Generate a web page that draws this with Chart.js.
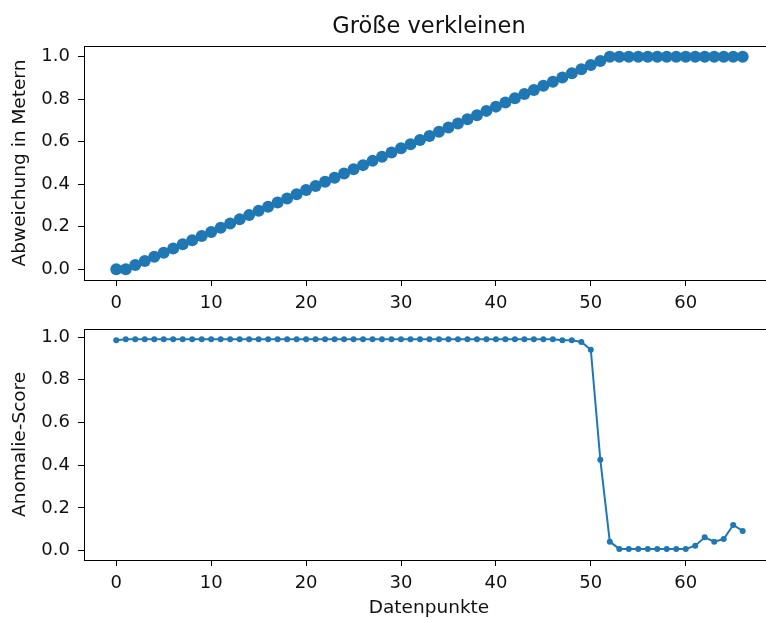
<!DOCTYPE html>
<html>
<head>
<meta charset="utf-8">
<script src="https://cdn.jsdelivr.net/npm/chart.js@4/dist/chart.umd.min.js"></script>
<style>
  html, body { margin: 0; padding: 0; background: #fff; overflow: hidden; width: 766px; height: 619px; }
  .wrap { position: absolute; left: 0; width: 790px; }
  #top { top: 0; height: 310px; }
  #bottom { top: 310px; height: 309px; }
</style>
</head>
<body>
<div class="wrap" id="top"><canvas id="deviationChart"></canvas></div>
<div class="wrap" id="bottom"><canvas id="scoreChart"></canvas></div>
<script>
// ── Data ────────────────────────────────────────────
const TITLE = 'Größe verkleinen';
const X_TICKS = [0, 10, 20, 30, 40, 50, 60];
const Y_TICKS = [0, 0.2, 0.4, 0.6, 0.8, 1.0];

// Abweichung in Metern (oben)
const deviation = [
  0, 0, 0.020, 0.039, 0.059, 0.078, 0.098, 0.118, 0.137, 0.157,
  0.176, 0.196, 0.216, 0.235, 0.255, 0.275, 0.294, 0.314, 0.333, 0.353,
  0.373, 0.392, 0.412, 0.431, 0.451, 0.471, 0.490, 0.510, 0.529, 0.549,
  0.569, 0.588, 0.608, 0.627, 0.647, 0.667, 0.686, 0.706, 0.725, 0.745,
  0.765, 0.784, 0.804, 0.824, 0.843, 0.863, 0.882, 0.902, 0.922, 0.941,
  0.961, 0.980, 1.0, 1.0, 1.0, 1.0, 1.0, 1.0, 1.0, 1.0,
  1.0, 1.0, 1.0, 1.0, 1.0, 1.0, 1.0
];

// Anomalie-Score (unten)
const anomalyScore = [
  0.985, 0.99, 0.99, 0.99, 0.99, 0.99, 0.99, 0.99, 0.99, 0.99,
  0.99, 0.99, 0.99, 0.99, 0.99, 0.99, 0.99, 0.99, 0.99, 0.99,
  0.99, 0.99, 0.99, 0.99, 0.99, 0.99, 0.99, 0.99, 0.99, 0.99,
  0.99, 0.99, 0.99, 0.99, 0.99, 0.99, 0.99, 0.99, 0.99, 0.99,
  0.99, 0.99, 0.99, 0.99, 0.99, 0.99, 0.99, 0.985, 0.985, 0.977,
  0.941, 0.426, 0.042, 0.008, 0.008, 0.008, 0.008, 0.008, 0.008, 0.008,
  0.008, 0.023, 0.062, 0.042, 0.054, 0.12, 0.092
];

// ── Style ───────────────────────────────────────────
const BLUE = '#1f77b4';
const FONT = 'DejaVu Sans';
const TEXT = '#111';
const TICK_SIZE = 18;
const LABEL_SIZE = 18.5;

// matplotlib-like box round the axes
const spines = {
  id: 'spines',
  afterDraw(chart) {
    const { ctx, chartArea: a } = chart;
    ctx.save();
    ctx.strokeStyle = '#000';
    ctx.lineWidth = 1;
    ctx.strokeRect(Math.round(a.left) + 0.5, Math.round(a.top) + 0.5,
      Math.round(a.right - a.left), Math.round(a.bottom - a.top));
    ctx.restore();
  },
};

// title centred over the axes, like matplotlib's ax.set_title
const axesTitle = {
  id: 'axesTitle',
  afterDraw(chart, args, opts) {
    if (!opts.text) return;
    const { ctx, chartArea: a } = chart;
    ctx.save();
    ctx.fillStyle = TEXT;
    ctx.font = `${opts.size}px "${FONT}"`;
    ctx.textAlign = 'center';
    ctx.textBaseline = 'alphabetic';
    ctx.fillText(opts.text, (a.left + a.right) / 2, opts.baseline);
    ctx.restore();
  },
};

function xScale(height, withTitle) {
  return {
    type: 'linear',
    min: -3.4,
    max: 69.3,
    afterBuildTicks: (s) => { s.ticks = X_TICKS.map((v) => ({ value: v })); },
    afterFit: (s) => { s.height = height; },
    grid: { drawOnChartArea: false, drawTicks: true, tickLength: 6, color: '#000' },
    border: { display: false },
    ticks: { color: TEXT, font: { family: FONT, size: TICK_SIZE }, padding: 7, maxRotation: 0 },
    title: {
      display: withTitle,
      text: 'Datenpunkte',
      color: TEXT,
      font: { family: FONT, size: LABEL_SIZE },
      padding: { top: 0, bottom: 0 },
    },
  };
}

function yScale(min, max, label) {
  return {
    type: 'linear',
    min,
    max,
    afterBuildTicks: (s) => { s.ticks = Y_TICKS.map((v) => ({ value: v })); },
    afterFit: (s) => { s.width = 84; },
    grid: { drawOnChartArea: false, drawTicks: true, tickLength: 6, color: '#000' },
    border: { display: false },
    ticks: {
      color: TEXT,
      font: { family: FONT, size: TICK_SIZE },
      padding: 8,
      callback: (v) => v.toFixed(1),
    },
    title: {
      display: true,
      text: label,
      color: TEXT,
      font: { family: FONT, size: LABEL_SIZE },
      padding: { top: 9.4, bottom: 0 },
    },
  };
}

// ── Top chart ───────────────────────────────────────
new Chart(document.getElementById('deviationChart'), {
  type: 'scatter',
  data: {
    datasets: [{
      data: deviation.map((v, i) => ({ x: i, y: v })),
      backgroundColor: BLUE,
      borderColor: BLUE,
      pointRadius: 6,
      pointBorderWidth: 0,
      showLine: false,
    }],
  },
  options: {
    responsive: true,
    maintainAspectRatio: false,
    animation: false,
    layout: { padding: { left: 0, right: 16, top: 46, bottom: 0 } },
    plugins: {
      legend: { display: false },
      tooltip: { enabled: false },
      axesTitle: { text: TITLE, size: 22.5, baseline: 33 },
    },
    scales: {
      x: xScale(30, false),
      y: yScale(-0.05, 1.05, 'Abweichung in Metern'),
    },
  },
  plugins: [spines, axesTitle],
});

// ── Bottom chart ────────────────────────────────────
new Chart(document.getElementById('scoreChart'), {
  type: 'line',
  data: {
    datasets: [{
      data: anomalyScore.map((v, i) => ({ x: i, y: v })),
      borderColor: BLUE,
      backgroundColor: BLUE,
      borderWidth: 2,
      pointRadius: 3,
      pointBorderWidth: 0,
      tension: 0,
      fill: false,
    }],
  },
  options: {
    responsive: true,
    maintainAspectRatio: false,
    animation: false,
    layout: { padding: { left: 0, right: 16, top: 16, bottom: 0 } },
    plugins: {
      legend: { display: false },
      tooltip: { enabled: false },
    },
    scales: {
      x: xScale(59, true),
      y: yScale(-0.044, 1.039, 'Anomalie-Score'),
    },
  },
  plugins: [spines],
});
</script>
</body>
</html>
